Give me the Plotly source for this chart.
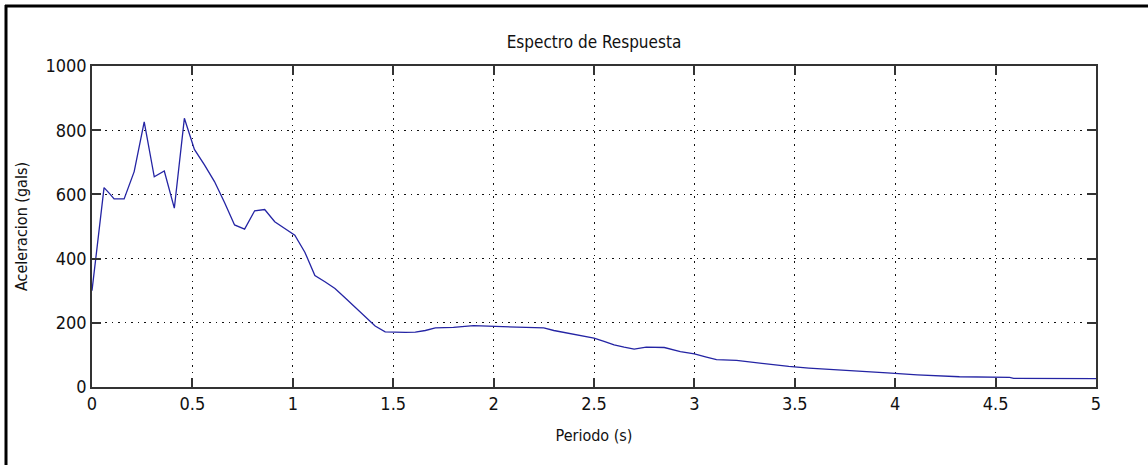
import plotly.graph_objects as go

periods = [0, 0.06, 0.09, 0.11, 0.16, 0.21, 0.26, 0.31, 0.36, 0.41, 0.46, 0.51, 0.56, 0.61, 0.66,
           0.71, 0.76, 0.81, 0.86, 0.91, 0.96, 1.01, 1.06, 1.11, 1.16, 1.21, 1.26, 1.31, 1.36, 1.41,
           1.46, 1.51, 1.56, 1.61, 1.66, 1.71, 1.8, 1.9, 2.0, 2.1, 2.2, 2.25, 2.3, 2.35, 2.4, 2.45,
           2.5, 2.55, 2.6, 2.65, 2.7, 2.76, 2.85, 2.93, 3.0, 3.06, 3.11, 3.21, 3.31, 3.37, 3.47,
           3.57, 3.71, 3.82, 3.96, 4.11, 4.32, 4.57, 4.59, 5.0]
accel = [300, 621, 601, 586, 586, 671, 826, 655, 673, 557, 837, 740, 692, 640, 575,
         505, 492, 549, 553, 515, 494, 473, 420, 347, 328, 307, 278, 248, 218, 190,
         172, 170, 170, 171, 176, 184, 186, 191, 189, 187, 185, 184, 176, 170, 165, 159,
         152, 142, 131, 124, 118, 124, 123, 110, 103, 93, 85, 83, 76, 70, 64,
         59, 53, 48, 44, 38, 32, 30, 27, 26]

x_ticks = [0, 0.5, 1, 1.5, 2, 2.5, 3, 3.5, 4, 4.5, 5]
x_tick_labels = ["0", "0.5", "1", "1.5", "2", "2.5", "3", "3.5", "4", "4.5", "5"]
y_ticks = [0, 200, 400, 600, 800, 1000]
y_tick_labels = ["0", "200", "400", "600", "800", "1000"]

FONT = "DejaVu Sans Condensed, Liberation Sans Narrow, Liberation Sans, sans-serif"

fig = go.Figure()
fig.add_trace(go.Scatter(x=periods, y=accel, mode="lines",
                         line=dict(color="#2424a4", width=1.3), showlegend=False))

axis_common = dict(
    showline=True, linecolor="#333333", linewidth=1.5, mirror="all",
    ticks="inside", ticklen=9, tickcolor="#333333", tickwidth=1.5,
    showgrid=True, gridcolor="#111111", gridwidth=1.2, griddash="1.5px,5px",
    zeroline=False, tickfont=dict(family=FONT, size=18, color="#111111"),
)

fig.update_layout(
    width=1148, height=465,
    margin=dict(l=92, r=52, t=66, b=78),
    paper_bgcolor="white", plot_bgcolor="white",
    title=dict(text="Espectro de Respuesta", x=0.5, xanchor="center",
               xref="paper", y=1 - 42 / 465, yanchor="middle",
               font=dict(family=FONT, size=17, color="#111111")),
    xaxis=dict(range=[0, 5], tickvals=x_ticks, ticktext=x_tick_labels,
               title=dict(text="Periodo (s)", font=dict(family=FONT, size=16, color="#111111"),
                          standoff=16),
               **axis_common),
    yaxis=dict(range=[0, 1000], tickvals=y_ticks, ticktext=y_tick_labels,
               title=dict(text="Aceleracion (gals)", font=dict(family=FONT, size=16, color="#111111"),
                          standoff=14),
               **axis_common),
    shapes=[
        dict(type="line", xref="paper", yref="paper",
             x0=(6 - 92) / 1004, x1=(6 - 92) / 1004,
             y0=(387 - 5) / 321, y1=(387 - 470) / 321,
             line=dict(color="black", width=3)),
        dict(type="line", xref="paper", yref="paper",
             x0=(5 - 92) / 1004, x1=(1150 - 92) / 1004,
             y0=(387 - 6) / 321, y1=(387 - 6) / 321,
             line=dict(color="black", width=3)),
    ],
)

fig.write_html("out.html")
